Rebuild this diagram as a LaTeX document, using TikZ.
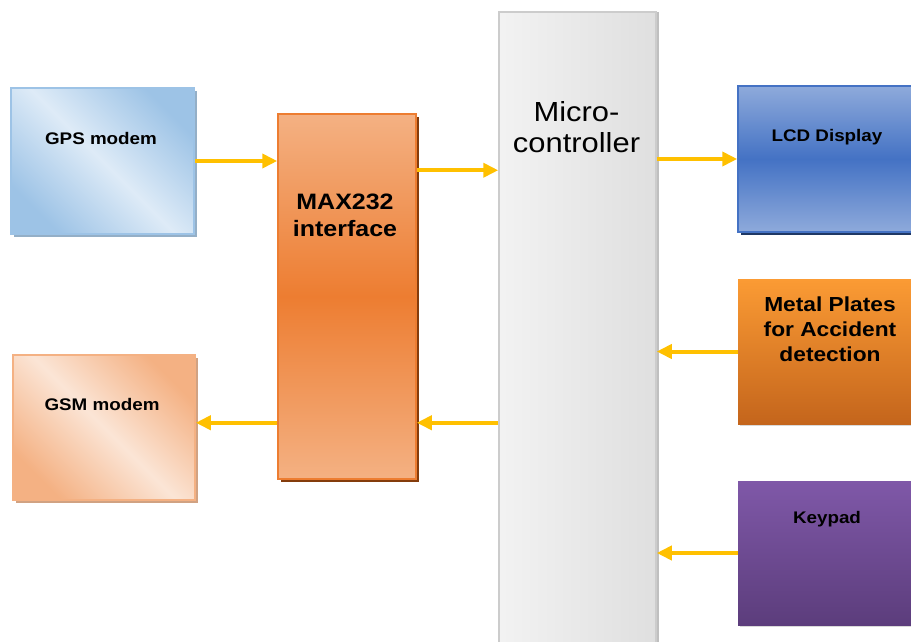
\documentclass[tikz,border=0pt]{standalone}
\usepackage{fontspec}
\setmainfont{Liberation Sans}[FakeStretch=1.12]
\usetikzlibrary{arrows.meta,calc,shadows}

\definecolor{linkyellow}{HTML}{FFC000}
\definecolor{gpsdark}{HTML}{9DC3E6}
\definecolor{gpslight}{HTML}{DEEBF7}
\definecolor{gsmdark}{HTML}{F4B183}
\definecolor{gsmlight}{HTML}{FBE5D6}
\definecolor{maxmid}{HTML}{ED7D31}
\definecolor{maxshadow}{HTML}{843C0C}
\definecolor{lcdlight}{HTML}{8EAADB}
\definecolor{lcdmid}{HTML}{4472C4}
\definecolor{lcdshadow}{HTML}{1F3864}
\definecolor{platetop}{HTML}{FB9B34}
\definecolor{platebot}{HTML}{C4651C}
\definecolor{keytop}{HTML}{7F58A8}
\definecolor{keybot}{HTML}{5C3D7C}

\begin{document}
\begin{tikzpicture}
  [x=1pt,y=-1pt,every node/.style={rectangle,inner sep=0pt},
   block/.style={line width=1.5pt},
   lbl/.style={anchor=base,align=center,font=\bfseries\fontsize{16.8}{20}\selectfont},
   link/.style={draw=linkyellow,line width=4pt,-{Triangle[length=15pt,width=14pt]}}]
  \clip (0,0) rectangle (911,642);
  % blocks
  \node[block,minimum width=183pt,minimum height=146pt,draw=gpsdark,
    top color=gpsdark,bottom color=gpsdark,middle color=gpslight,shading angle=-45,
    drop shadow={shadow xshift=3pt,shadow yshift=-3pt,fill=gpsdark!70!gray,opacity=1}]
    (gps) at (102.5,161) {};
  \node[block,minimum width=182pt,minimum height=145pt,draw=gsmdark,
    top color=gsmdark,bottom color=gsmdark,middle color=gsmlight,shading angle=-45,
    drop shadow={shadow xshift=3pt,shadow yshift=-3pt,fill=gsmdark!70!gray,opacity=1}]
    (gsm) at (104,427.5) {};
  \node[block,minimum width=138pt,minimum height=365pt,draw=maxmid,
    top color=gsmdark,bottom color=gsmdark,middle color=maxmid,
    drop shadow={shadow xshift=3pt,shadow yshift=-3pt,fill=maxshadow,opacity=1}]
    (max) at (347,296.5) {};
  \node[block,minimum width=157pt,minimum height=648pt,draw=gray!40,
    left color=gray!10,right color=gray!25,
    drop shadow={shadow xshift=3pt,shadow yshift=0pt,fill=gray!50,opacity=1}]
    (mcu) at (577.5,336) {};
  \node[block,minimum width=178pt,minimum height=146pt,draw=lcdmid,
    top color=lcdlight,bottom color=lcdlight,middle color=lcdmid,
    drop shadow={shadow xshift=3pt,shadow yshift=-3pt,fill=lcdshadow,opacity=1}]
    (lcd) at (827,159) {};
  \node[minimum width=178pt,minimum height=145pt,
    top color=platetop,bottom color=platebot,
    drop shadow={shadow xshift=2pt,shadow yshift=-2pt,fill=gray!30,opacity=1}]
    (plates) at (827,351.5) {};
  \node[minimum width=178pt,minimum height=144pt,
    top color=keytop,bottom color=keybot,
    drop shadow={shadow xshift=2pt,shadow yshift=-2pt,fill=gray!30,opacity=1}]
    (keypad) at (827,553) {};
  % labels
  \node[lbl] (gpstxt) at ($(gps.north)+(-1.5,57)$) {GPS modem};
  \node[lbl] (gsmtxt) at ($(gsm.north)+(-2,56.7)$) {GSM modem};
  \node[lbl,font=\bfseries\fontsize{22.3}{27}\selectfont] (maxtxt)
    at ($(max.north)+(-2,123)$) {MAX232\\interface};
  \node[lbl,font=\fontsize{27.6}{31}\selectfont] (mcutxt)
    at ($(mcu.north)+(-1,141)$) {Micro-\\controller};
  \node[lbl] (lcdtxt) at ($(lcd.north)+(0,56.7)$) {LCD Display};
  \node[lbl,font=\bfseries\fontsize{20.3}{25}\selectfont] (platestxt)
    at ($(plates.north)+(3,82.7)$) {Metal Plates\\for Accident\\detection};
  \node[lbl] (keypadtxt) at ($(keypad.north)+(0,43)$) {Keypad};
  % links
  \coordinate (mi) at ($(max.north east)+(0,57)$);
  \coordinate (mo) at ($(max.south east)+(0,-57)$);
  \coordinate (gi) at ($(max.south west)+(0,-57)$);
  \foreach \from/\to in {gps.east/{gps.east -| max.west}, mi/{mi -| mcu.west},
      {lcd.west -| mcu.east}/lcd.west, plates.west/{plates.west -| mcu.east},
      keypad.west/{keypad.west -| mcu.east}, {mo -| mcu.west}/mo, gi/{gi -| gsm.east}}
    \draw[link] (\from) -- (\to);
\end{tikzpicture}
\end{document}
